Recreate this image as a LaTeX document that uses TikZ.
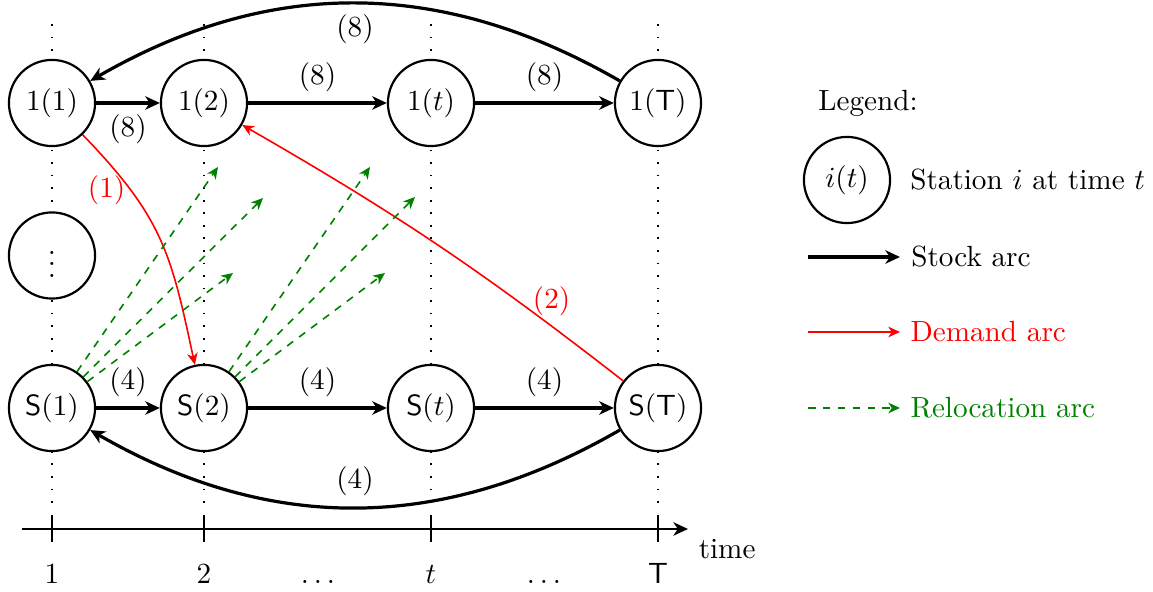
\documentclass[tikz,border=0pt]{standalone}
\usetikzlibrary{arrows.meta}
\begin{document}
\begin{tikzpicture}[x=0.3425pt,y=0.3425pt,
  station/.style={circle,draw,line width=0.75pt,fill=white,minimum size=29.5pt,inner sep=0pt},
  stocktip/.style={-{Stealth[length=5pt,width=4.6pt,inset=1.5pt]}},
  stock/.style={line width=1.1pt,stocktip},
  thintip/.style={-{Stealth[length=4pt,width=3.6pt,inset=1.2pt]}},
  demand/.style={red,line width=0.55pt,thintip},
  reloc/.style={green!50!black,line width=0.55pt,dash pattern=on 2.6pt off 2.5pt,thintip},
  guide/.style={line width=0.6pt,dash pattern=on 0.6pt off 3.7pt},
  tick/.style={line width=0.6pt},
  axislabel/.style={anchor=base}
]
\useasboundingbox (0,0) rectangle (1153,592);

% vertical dotted guides
\foreach \x in {52,204,431,658} \draw[guide] (\x,568) -- (\x,80);

% station nodes
\node[station] (n11) at (52,489) {$1(1)$};
\node[station] (n12) at (204,489) {$1(2)$};
\node[station] (n1t) at (431,489) {$1(t)$};
\node[station] (n1T) at (658,489) {$1(\mathsf{T})$};
\node[station] (ndots) at (52,336.5) {$\vdots$};
\node[station] (nS1) at (52,184) {$\mathsf{S}(1)$};
\node[station] (nS2) at (204,184) {$\mathsf{S}(2)$};
\node[station] (nSt) at (431,184) {$\mathsf{S}(t)$};
\node[station] (nST) at (658,184) {$\mathsf{S}(\mathsf{T})$};

% stock arcs, top row
\draw[stock] (n11) -- node[below] {(8)} (n12);
\draw[stock] (n12) -- node[above] {(8)} (n1t);
\draw[stock] (n1t) -- node[above] {(8)} (n1T);
\draw[stock] (n1T) to[bend right=30] node[below] {(8)} (n11);

% stock arcs, bottom row
\draw[stock] (nS1) -- node[above] {(4)} (nS2);
\draw[stock] (nS2) -- node[above] {(4)} (nSt);
\draw[stock] (nSt) -- node[above] {(4)} (nST);
\draw[stock] (nST) to[bend left=30] node[above] {(4)} (nS1);

% demand arcs
\draw[demand] (n11) to[out=-46,in=102,looseness=1.15] node[pos=0.25,left,inner sep=1.5pt] {(1)} (nS2);
\draw[demand] (nST) to[bend right=4] node[pos=0.18,above] {(2)} (n12);

% relocation arcs
\coordinate (r11) at (218,425);
\coordinate (r12) at (263,394);
\coordinate (r13) at (233,319);
\coordinate (r21) at (370,425);
\coordinate (r22) at (415,395);
\coordinate (r23) at (385,319);
\draw[reloc] (nS1) -- (r11);
\draw[reloc] (nS1) -- (r12);
\draw[reloc] (nS1) -- (r13);
\draw[reloc] (nS2) -- (r21);
\draw[reloc] (nS2) -- (r22);
\draw[reloc] (nS2) -- (r23);

% time axis
\coordinate (a0) at (22,63);
\coordinate (a1) at (688,63);
\draw[line width=0.7pt,stocktip] (a0) -- (a1) node[below right] {time};
\foreach \x in {52,204,431,658} \draw[tick] (\x,50) -- (\x,77);
\node[axislabel] (l1) at (52,8) {1};
\node[axislabel] (l2) at (204,8) {2};
\node[axislabel] (l3) at (318,8) {$\dots$};
\node[axislabel] (l4) at (431,8) {$t$};
\node[axislabel] (l5) at (544,8) {$\dots$};
\node[axislabel] (l6) at (658,8) {$\mathsf{T}$};

% legend
\node (leg) at (868,489) {Legend:};
\node[station] (legc) at (847,412) {$i(t)$};
\node[anchor=west] (legct) at (900,412) {Station $i$ at time $t$};
\coordinate (ls1) at (808,335); \coordinate (ls2) at (900,335);
\draw[stock] (ls1) -- (ls2) node[right] {Stock arc};
\coordinate (ld1) at (808,260); \coordinate (ld2) at (900,260);
\draw[demand] (ld1) -- (ld2) node[right] {Demand arc};
\coordinate (lr1) at (808,184); \coordinate (lr2) at (900,184);
\draw[reloc] (lr1) -- (lr2) node[right] {Relocation arc};
\end{tikzpicture}
\end{document}
